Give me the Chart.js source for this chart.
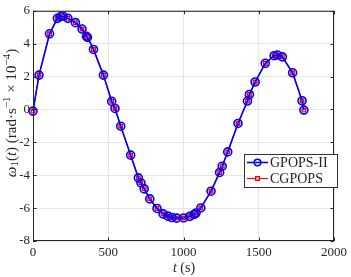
<!DOCTYPE html>
<html>
<head>
<meta charset="utf-8">
<script src="https://cdn.jsdelivr.net/npm/chart.js@4"></script>
<style>
html, body { margin: 0; padding: 0; background: #fff; }
</style>
</head>
<body>
<canvas id="omegaChart" width="351" height="277"></canvas>
<script>
// Data (t in seconds, omega_1 in 1e-4 rad/s)
const timeS = [0, 40, 110, 162, 184, 199, 232, 282, 326, 355, 362, 402, 468, 523, 545,
  583, 649, 700, 717, 739, 776, 824, 864, 896, 923, 955, 1001, 1042, 1071, 1083, 1115,
  1183, 1240, 1257, 1294, 1362, 1425, 1438, 1476, 1543, 1602, 1624, 1657, 1725, 1788, 1800];
const omegaGpops = [-0.1, 2.09, 4.6, 5.54, 5.65, 5.68, 5.54, 5.28, 4.89, 4.45, 4.38, 3.65, 2.09, 0.49, 0.06,
  -1.02, -2.78, -4.16, -4.46, -4.83, -5.44, -6.02, -6.35, -6.49, -6.57, -6.61, -6.6, -6.5, -6.38, -6.3, -5.99,
  -4.97, -3.83, -3.45, -2.58, -0.85, 0.51, 0.91, 1.67, 2.8, 3.27, 3.31, 3.2, 2.23, 0.53, -0.04];
const omegaCgpops = omegaGpops.slice();
const xTicks = [0, 500, 1000, 1500, 2000];
const yTicks = [-8, -6, -4, -2, 0, 2, 4, 6];

const serif = '"Liberation Serif", "Times New Roman", serif';
const axisColor = '#262626';

function pts(xs, ys) {
  return xs.map((x, i) => ({ x: x, y: ys[i] }));
}

// box, inward ticks, legend and axis titles like the matlab figure
const matlabBits = {
  id: 'matlabBits',
  afterDraw(chart) {
    const ctx = chart.ctx;
    const a = chart.chartArea;
    const xs = chart.scales.x, ys = chart.scales.y;
    ctx.save();
    ctx.strokeStyle = axisColor;
    ctx.lineWidth = 1;
    ctx.strokeRect(a.left + 0.5, a.top + 0.5, a.right - a.left - 1, a.bottom - a.top - 1);
    ctx.beginPath();
    xTicks.forEach(v => {
      const p = Math.round(xs.getPixelForValue(v)) + 0.5;
      ctx.moveTo(p, a.bottom); ctx.lineTo(p, a.bottom - 3.5);
      ctx.moveTo(p, a.top); ctx.lineTo(p, a.top + 3.5);
    });
    yTicks.forEach(v => {
      const p = Math.round(ys.getPixelForValue(v)) + 0.5;
      ctx.moveTo(a.left, p); ctx.lineTo(a.left + 3.5, p);
      ctx.moveTo(a.right, p); ctx.lineTo(a.right - 3.5, p);
    });
    ctx.stroke();

    // legend
    const lx = 244, ly = 154, lw = 93, lh = 33;
    ctx.fillStyle = '#fff';
    ctx.fillRect(lx, ly, lw, lh);
    ctx.strokeStyle = '#333';
    ctx.strokeRect(lx + 0.5, ly + 0.5, lw, lh);
    chart.data.datasets.forEach((ds, i) => {
      const cy = ly + 8.5 + i * 16;
      ctx.strokeStyle = ds.borderColor;
      ctx.lineWidth = ds.borderWidth;
      ctx.beginPath();
      ctx.moveTo(lx + 3, cy); ctx.lineTo(lx + 24, cy);
      ctx.stroke();
      ctx.lineWidth = ds.pointBorderWidth;
      ctx.strokeStyle = ds.pointBorderColor;
      ctx.fillStyle = ds.pointBackgroundColor;
      const r = ds.pointRadius - 0.7;
      if (ds.pointStyle === 'rect') {
        ctx.fillRect(lx + 13.5 - r, cy - r, 2 * r, 2 * r);
        ctx.strokeRect(lx + 13.5 - r, cy - r, 2 * r, 2 * r);
      } else {
        ctx.beginPath();
        ctx.arc(lx + 13.5, cy, r, 0, Math.PI * 2);
        ctx.stroke();
      }
      ctx.fillStyle = axisColor;
      ctx.font = '14px ' + serif;
      ctx.textBaseline = 'middle';
      ctx.textAlign = 'left';
      ctx.fillText(ds.label, lx + 26, cy + 0.5);
    });

    // axis titles
    ctx.fillStyle = axisColor;
    ctx.textBaseline = 'middle';
    ctx.textAlign = 'left';
    ctx.save();
    ctx.translate(12, 113);
    ctx.rotate(-Math.PI / 2);
    drawRich(ctx, [
      { t: 'ω', it: true }, { t: '1', sz: 0.7, dy: 3 }, { t: '(' }, { t: 't', it: true },
      { t: ') (rad·s' }, { t: '−1', sz: 0.7, dy: -5 }, { t: ' × 10' }, { t: '−4', sz: 0.7, dy: -5 }, { t: ')' }
    ], 15);
    ctx.restore();
    ctx.save();
    ctx.translate(184, 268);
    drawRich(ctx, [{ t: 't', it: true }, { t: ' (s)' }], 14);
    ctx.restore();
    ctx.restore();
  }
};

function richFont(p, size) {
  return (p.it ? 'italic ' : '') + Math.round(size * (p.sz || 1)) + 'px ' + serif;
}

function drawRich(ctx, parts, size) {
  let w = 0;
  parts.forEach(p => { ctx.font = richFont(p, size); w += ctx.measureText(p.t).width; });
  let x = -w / 2;
  parts.forEach(p => {
    ctx.font = richFont(p, size);
    ctx.fillText(p.t, x, p.dy || 0);
    x += ctx.measureText(p.t).width;
  });
}

const ctx = document.getElementById('omegaChart').getContext('2d');
const omegaChart = new Chart(ctx, {
  type: 'line',
  data: {
    datasets: [{
      label: 'GPOPS-II',
      data: pts(timeS, omegaGpops),
      borderColor: '#0000ff',
      borderWidth: 1.6,
      pointStyle: 'circle',
      pointRadius: 4,
      pointBorderWidth: 1.6,
      pointBorderColor: '#0000ff',
      pointBackgroundColor: 'rgba(0,0,0,0)',
      clip: false
    }, {
      label: 'CGPOPS',
      data: pts(timeS, omegaCgpops),
      borderColor: '#ff0000',
      borderWidth: 1.1,
      pointStyle: 'rect',
      pointRadius: 2.5,
      pointBorderWidth: 1.4,
      pointBorderColor: '#ff0000',
      pointBackgroundColor: '#ffffff',
      clip: false
    }]
  },
  options: {
    responsive: false,
    animation: false,
    layout: { padding: { top: 5, right: 13, left: 0, bottom: 0 } },
    plugins: { legend: { display: false }, tooltip: { enabled: false } },
    elements: { line: { tension: 0 } },
    scales: {
      x: {
        type: 'linear', min: 0, max: 2000,
        afterBuildTicks: s => { s.ticks = xTicks.map(v => ({ value: v })); },
        afterFit: s => { s.height = 36; },
        ticks: { color: axisColor, padding: 4, font: { family: serif, size: 13 }, callback: v => String(v) },
        grid: { color: '#e6e6e6', drawTicks: false },
        border: { display: false }
      },
      y: {
        type: 'linear', min: -8, max: 6,
        afterBuildTicks: s => { s.ticks = yTicks.map(v => ({ value: v })); },
        afterFit: s => { s.width = 33; },
        ticks: { color: axisColor, padding: 3, font: { family: serif, size: 13 }, callback: v => String(v) },
        grid: { color: '#e6e6e6', drawTicks: false },
        border: { display: false }
      }
    }
  },
  plugins: [matlabBits]
});
</script>
</body>
</html>
